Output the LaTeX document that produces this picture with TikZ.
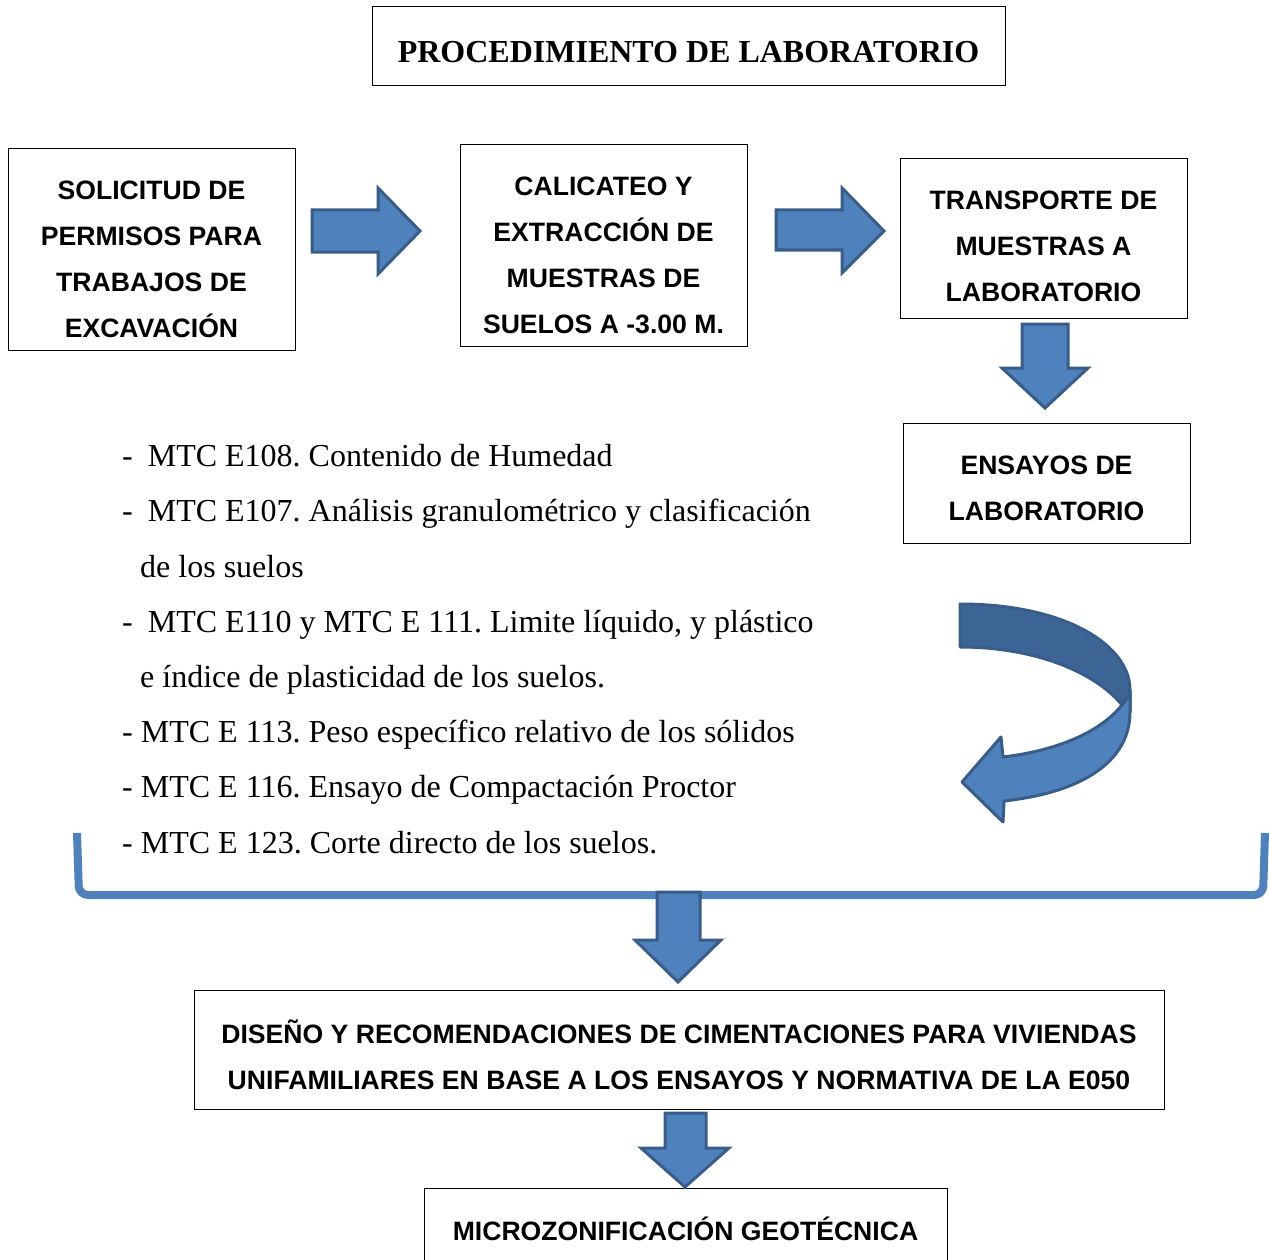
\documentclass[tikz,border=0pt]{standalone}
\usepackage{fontspec}
\setmainfont{Liberation Serif}
\newfontfamily\sansf{Liberation Sans}
\definecolor{afill}{RGB}{79,129,189}
\definecolor{aedge}{RGB}{56,93,138}
\definecolor{adark}{RGB}{60,101,150}
\frenchspacing
\begin{document}
\begin{tikzpicture}[x=1pt,y=-1pt,
  box/.style={draw=black, line width=1pt, fill=white, inner sep=0pt},
  btext/.style={font=\sansf\bfseries\fontsize{26.6}{46}\selectfont, align=center, inner sep=0pt},
  ltext/.style={font=\fontsize{32}{38}\selectfont, anchor=base west, inner sep=0pt},
  barrow/.style={fill=afill, draw=aedge, line width=3pt, line join=miter},
  bracel/.style={draw=afill, line width=8pt, rounded corners=9pt}]
\useasboundingbox (0,0) rectangle (1269,1260);

% title
\node[box, minimum width=633pt, minimum height=79pt] (tbox) at (688.5,46.5) {};
\node[font=\bfseries\fontsize{32}{38}\selectfont, inner sep=0pt] (title) at (688.5,52) {PROCEDIMIENTO DE LABORATORIO};

% top boxes
\node[box, minimum width=287pt, minimum height=201pt] (b1) at (151.5,249.5) {};
\node[btext] (b1t) at (151.5,259) {SOLICITUD DE\\PERMISOS PARA\\TRABAJOS DE\\EXCAVACIÓN};
\node[box, minimum width=287pt, minimum height=201pt] (b2) at (603.5,245.5) {};
\node[btext] (b2t) at (603.5,255) {CALICATEO Y\\EXTRACCIÓN DE\\MUESTRAS DE\\SUELOS A -3.00 M.};
\node[box, minimum width=287pt, minimum height=159pt] (b3) at (1043.5,238.5) {};
\node[btext] (b3t) at (1043.5,246) {TRANSPORTE DE\\MUESTRAS A\\LABORATORIO};
\node[box, minimum width=287pt, minimum height=120pt] (b4) at (1046.5,483) {};
\node[btext] (b4t) at (1046.5,488) {ENSAYOS DE\\LABORATORIO};
\node[box, minimum width=970pt, minimum height=119pt] (b5) at (679,1049.5) {};
\node[btext] (b5t) at (679,1054.5) {DISEÑO Y RECOMENDACIONES DE CIMENTACIONES PARA VIVIENDAS\\UNIFAMILIARES EN BASE A LOS ENSAYOS Y NORMATIVA DE LA E050};
\node[box, minimum width=523pt, minimum height=90pt] (b6) at (685.5,1233) {};
\node[btext] (b6t) at (685.5,1229) {MICROZONIFICACIÓN GEOTÉCNICA};

% straight block arrows
\draw[barrow] (312,210) -- (378,210) -- (378,188) -- (420,231) -- (378,274) -- (378,252) -- (312,252) -- cycle;
\draw[barrow] (776,210) -- (842,210) -- (842,188) -- (884,231) -- (842,273) -- (842,250) -- (776,250) -- cycle;
\draw[barrow] (1022,324) -- (1068,324) -- (1068,368) -- (1088,368) -- (1045,408) -- (1002,368) -- (1022,368) -- cycle;

% list
\node[ltext] (l1) at (122,466) {-\hspace{15pt}MTC E108. Contenido de Humedad};
\node[ltext] (l2) at (122,521) {-\hspace{15pt}MTC E107. Análisis granulométrico y clasificación};
\node[ltext] (l3) at (140,577) {de los suelos};
\node[ltext] (l4) at (122,632) {-\hspace{15pt}MTC E110 y MTC E 111. Limite líquido, y plástico};
\node[ltext] (l5) at (140,687) {e índice de plasticidad de los suelos.};
\node[ltext] (l6) at (122,742) {- MTC E 113. Peso específico relativo de los sólidos};
\node[ltext] (l7) at (122,797) {- MTC E 116. Ensayo de Compactación Proctor};
\node[ltext] (l8) at (122,853) {- MTC E 123. Corte directo de los suelos.};

% curved arrow
\draw[fill=adark, draw=aedge, line width=3pt, line join=round]
  (960,604) .. controls (1065,604) and (1130,645) .. (1130,690) -- (1130,712)
  -- (1122,705) .. controls (1095,672) and (1035,647) .. (960,647) -- cycle;
\draw[fill=afill, draw=aedge, line width=3pt, line join=round]
  (1122,705) .. controls (1095,738) and (1045,752) .. (1003,757) -- (1001,737)
  -- (962,782) -- (1003,822) -- (1004,801)
  .. controls (1085,792) and (1130,760) .. (1130,712) -- (1130,690)
  .. controls (1130,695) and (1126,700) .. (1122,705) -- cycle;

% bracket
\draw[bracel] (77,833) -- (79,895) -- (1263,895) -- (1265,833);

% lower arrows
\draw[barrow] (657,892) -- (700,892) -- (700,940) -- (721,940) -- (678,982) -- (635,940) -- (657,940) -- cycle;
\draw[barrow] (665,1113) -- (706,1113) -- (706,1148) -- (729,1148) -- (685,1187) -- (641,1148) -- (665,1148) -- cycle;
\end{tikzpicture}
\end{document}
